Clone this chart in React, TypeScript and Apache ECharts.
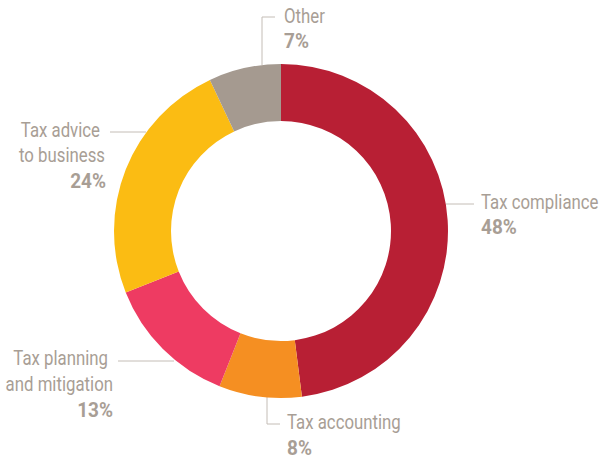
import React, { useEffect, useRef } from "react";
import * as echarts from "echarts";

const categories = [
  "Tax compliance",
  "Tax accounting",
  "Tax planning and mitigation",
  "Tax advice to business",
  "Other",
];
const values = [48, 8, 13, 24, 7];
const labelTexts = [
  ["Tax compliance"],
  ["Tax accounting"],
  ["Tax planning", "and mitigation"],
  ["Tax advice", "to business"],
  ["Other"],
];
const colors = ["#B81F34", "#F58F22", "#EE3B62", "#FBBC13", "#A59A90"];

// label placement (layout only): x per text line, first baseline, line step, leader line
const labelPlacement = [
  { xs: [481], pctX: 481, align: "left", base: 213, step: 24.5, line: [[446, 204], [474, 204]] },
  { xs: [287], pctX: 287, align: "left", base: 433, step: 25.5, line: [[267, 397], [267, 424], [280, 424]] },
  { xs: [108, 113], pctX: 113, align: "right", base: 369, step: 25.5, line: [[174, 361], [118, 361]] },
  { xs: [100, 105], pctX: 106, align: "right", base: 141, step: 25, line: [[146, 132], [110, 132]] },
  { xs: [284], pctX: 284, align: "left", base: 27, step: 24, line: [[262, 65], [262, 17], [275, 17]] },
];

const FONT = "Roboto, 'Noto Sans', sans-serif";
const TEXT_COLOR = "#A89E95";
const LINE_COLOR = "#C4BDB6";

export default function App() {
  const ref = useRef<HTMLDivElement>(null);
  useEffect(() => {
    if (!ref.current) return;
    const chart = echarts.init(ref.current, undefined, { renderer: "svg" });
    const data = categories.map((name, i) => ({
      name,
      value: values[i],
      itemStyle: { color: colors[i] },
    }));
    const graphics: any[] = [];
    labelPlacement.forEach((p, i) => {
      graphics.push({
        type: "polyline",
        silent: true,
        shape: { points: p.line },
        style: { stroke: LINE_COLOR, lineWidth: 1, fill: null },
      });
      labelTexts[i].forEach((t, j) => {
        graphics.push({
          type: "text",
          silent: true,
          x: p.xs[j],
          y: p.base + j * p.step,
          scaleX: 0.84,
          style: {
            text: t,
            fontFamily: FONT,
            fontSize: 20,
            fill: TEXT_COLOR,
            align: p.align,
            verticalAlign: "bottom",
          },
        });
      });
      graphics.push({
        type: "text",
        silent: true,
        x: p.pctX,
        y: p.base + labelTexts[i].length * p.step,
        scaleX: 0.95,
        style: {
          text: `${values[i]}%`,
          fontFamily: FONT,
          fontSize: 20,
          fontWeight: "bold",
          fill: TEXT_COLOR,
          align: p.align,
          verticalAlign: "bottom",
        },
      });
    });
    chart.setOption({
      animation: false,
      backgroundColor: "#ffffff",
      series: [
        {
          type: "pie",
          center: [281, 231],
          radius: [110, 167],
          startAngle: 90,
          clockwise: true,
          silent: true,
          label: { show: false },
          labelLine: { show: false },
          data,
        },
      ],
      graphic: graphics,
    });
    return () => chart.dispose();
  }, []);
  return (
    <div
      ref={ref}
      style={{ position: "fixed", left: 0, top: 0, width: 599, height: 459 }}
    />
  );
}
